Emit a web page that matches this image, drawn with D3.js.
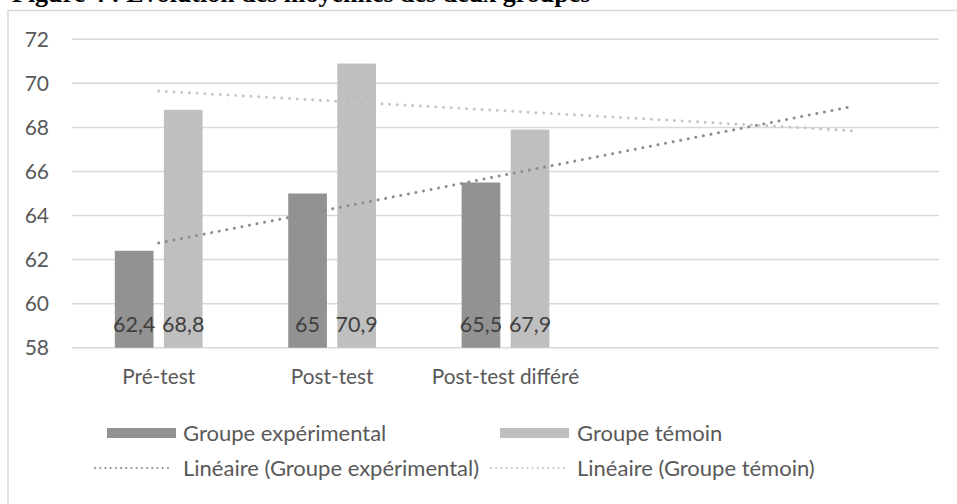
<!DOCTYPE html>
<html><head><meta charset="utf-8">
<script src="https://cdn.jsdelivr.net/npm/d3@7"></script>
<style>html,body{margin:0;padding:0;background:#fff;overflow:hidden}svg{display:block}</style>
</head><body>
<svg id="chart" width="957" height="504"></svg>
<script>
const titleText = "Figure 4 : Évolution des moyennes des deux groupes";
const categories = ["Pré-test", "Post-test", "Post-test différé", "", ""];
const seriesNames = ["Groupe expérimental", "Groupe témoin"];
const experimental = [62.4, 65, 65.5];
const temoin = [68.8, 70.9, 67.9];
const dataLabels = [["62,4", "65", "65,5"], ["68,8", "70,9", "67,9"]];
const yTicks = [58, 60, 62, 64, 66, 68, 70, 72];

const barColors = ["#929292", "#bfbfbf"];
const trendColors = ["#8e8e8e", "#c6c6c6"];
const txt = "#595959";
const font = "Lato, 'Open Sans', sans-serif";

const svg = d3.select("#chart");

// title (cut off at top in the reference)
svg.append("text").attr("x", 12).attr("y", 2)
  .attr("font-family", "'Liberation Serif', serif").attr("font-weight", "bold")
  .attr("font-size", 26).attr("fill", "#000").text(titleText);

// frame
svg.append("rect").attr("x", 8).attr("y", 10.5).attr("width", 1000).attr("height", 600)
  .attr("fill", "#fff").attr("stroke", "#d9d9d9").attr("stroke-width", 1.5);

const x = d3.scaleBand().domain(d3.range(categories.length)).range([72, 939]);
const y = d3.scaleLinear().domain([58, 72]).range([347.7, 39.3]);
const bw = x.bandwidth();
const barW = bw * 0.223, gap = bw * 0.06;

// gridlines
svg.append("g").selectAll("line").data(yTicks).join("line")
  .attr("x1", 72).attr("x2", 939)
  .attr("y1", d => y(d)).attr("y2", d => y(d))
  .attr("stroke", "#d9d9d9").attr("stroke-width", 1.5);

// y axis labels
const yAxis = d3.axisLeft(y).tickValues(yTicks).tickSize(0).tickPadding(0);
const ya = svg.append("g").attr("transform", "translate(49,0)").call(yAxis);
ya.select(".domain").remove();
ya.selectAll("text").attr("font-family", font).attr("font-size", 21).attr("fill", txt);

// x axis labels
const xAxis = d3.axisBottom(x).tickFormat(i => categories[i]).tickSize(0).tickPadding(0);
const xa = svg.append("g").attr("transform", "translate(0,369)").call(xAxis);
xa.select(".domain").remove();
xa.selectAll("text").attr("font-family", font).attr("font-size", 20.8).attr("fill", txt);

// bars
const series = [experimental, temoin];
series.forEach((vals, s) => {
  const off = s === 0 ? -gap / 2 - barW : gap / 2;
  svg.append("g").selectAll("rect").data(vals).join("rect")
    .attr("x", (d, i) => x(i) + bw / 2 + off)
    .attr("width", barW)
    .attr("y", d => y(d))
    .attr("height", d => y(58) - y(d))
    .attr("fill", barColors[s]);
  svg.append("g").selectAll("text").data(vals).join("text")
    .attr("x", (d, i) => x(i) + bw / 2 + off + barW / 2)
    .attr("y", 332)
    .attr("text-anchor", "middle")
    .attr("font-family", font).attr("font-size", 21.5).attr("fill", "#404040")
    .text((d, i) => dataLabels[s][i]);
});

// linear trendlines (least squares on observed points, extended across all categories)
function linReg(vals) {
  const xs = vals.map((d, i) => i + 1);
  const mx = d3.mean(xs), my = d3.mean(vals);
  const slope = d3.sum(xs, (xi, i) => (xi - mx) * (vals[i] - my)) / d3.sum(xs, xi => (xi - mx) ** 2);
  return xv => my + slope * (xv - mx);
}
series.forEach((vals, s) => {
  const f = linReg(vals);
  const pts = [1, categories.length].map(k => [x(k - 1) + bw / 2, y(f(k))]);
  svg.append("path").attr("d", d3.line()(pts))
    .attr("fill", "none").attr("stroke", trendColors[s]).attr("stroke-width", 3)
    .attr("stroke-linecap", "round").attr("stroke-dasharray", "0.01 7.7");
});

// legend
const leg = svg.append("g").attr("font-family", font).attr("font-size", 22).attr("fill", txt);
const legItems = [
  {type: "bar", s: 0, x: 107, tx: 183, y: 433, label: seriesNames[0]},
  {type: "bar", s: 1, x: 500, tx: 577, y: 433, label: seriesNames[1]},
  {type: "line", s: 0, x: 95, tx: 183, y: 468, label: "Linéaire (" + seriesNames[0] + ")"},
  {type: "line", s: 1, x: 491, tx: 577, y: 468, label: "Linéaire (" + seriesNames[1] + ")"}
];
legItems.forEach(it => {
  if (it.type === "bar") {
    leg.append("rect").attr("x", it.x).attr("y", it.y - 5).attr("width", 69).attr("height", 10).attr("fill", barColors[it.s]);
  } else {
    leg.append("line").attr("x1", it.x).attr("x2", it.x + 78).attr("y1", it.y).attr("y2", it.y)
      .attr("stroke", trendColors[it.s]).attr("stroke-width", 2.2).attr("stroke-linecap", "round")
      .attr("stroke-dasharray", "0.01 5.2");
  }
  leg.append("text").attr("x", it.tx).attr("y", it.y).attr("dy", "0.35em").text(it.label);
});
</script>
</body></html>
